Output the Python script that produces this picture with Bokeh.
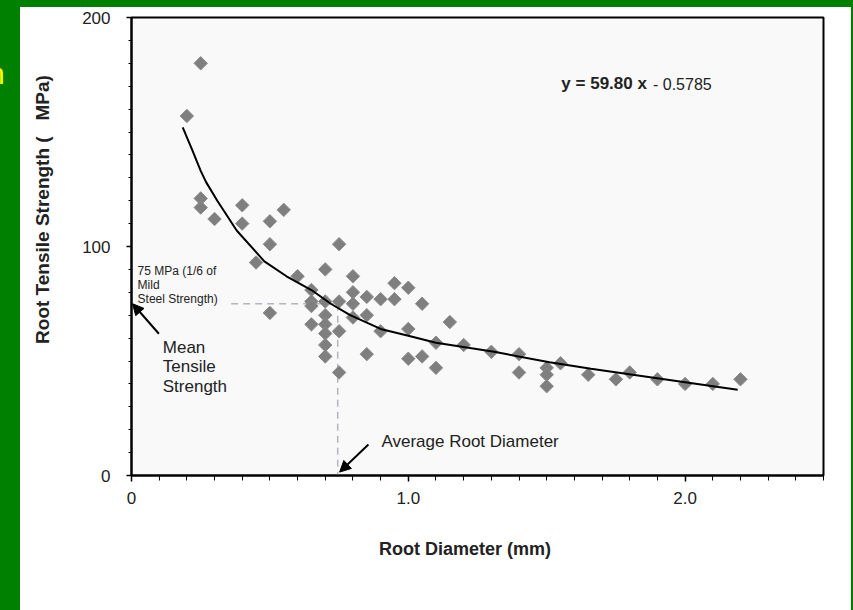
from bokeh.plotting import figure
from bokeh.models import Label, Arrow, NormalHead, FixedTicker, Div, Range1d
from bokeh.layouts import row, column
from bokeh.embed import file_html
from bokeh.resources import INLINE

# ---- data ----
root_diameter = [0.20, 0.25, 0.25, 0.25, 0.30, 0.40, 0.40, 0.45, 0.50, 0.50, 0.50, 0.55,
                 0.60, 0.65, 0.65, 0.65, 0.65, 0.70, 0.70, 0.70, 0.70, 0.70, 0.70, 0.70,
                 0.75, 0.75, 0.75, 0.75, 0.80, 0.80, 0.80, 0.80, 0.85, 0.85, 0.85, 0.90,
                 0.90, 0.95, 0.95, 1.00, 1.00, 1.00, 1.05, 1.05, 1.10, 1.10, 1.15, 1.20,
                 1.30, 1.40, 1.40, 1.50, 1.50, 1.50, 1.55, 1.65, 1.75, 1.80, 1.90, 2.00,
                 2.10, 2.20]
tensile_strength = [157, 180, 121, 117, 112, 118, 110, 93, 111, 101, 71, 116,
                    87, 81, 76, 74, 66, 90, 76, 70, 66, 62, 57, 52,
                    101, 76, 63, 45, 87, 80, 75, 69, 78, 70, 53, 77,
                    63, 84, 77, 82, 64, 51, 75, 52, 58, 47, 67, 57,
                    54, 53, 45, 47, 44, 39, 49, 44, 42, 45, 42, 40,
                    40, 42]
fit_x = [0.185, 0.22, 0.25, 0.27, 0.31, 0.38, 0.48, 0.56, 0.65, 0.72, 0.79, 0.90,
         1.00, 1.10, 1.31, 1.51, 1.66, 2.00, 2.19]
fit_y = [152, 142, 133, 128, 120, 107, 93.5, 87, 81, 75, 70, 64,
         61, 58, 54, 49.5, 46.6, 40.7, 37.4]
mean_strength = 75
average_diameter = 0.745
x_ticks = [0, 1, 2]
x_tick_labels = ["0", "1.0", "2.0"]
x_minor_ticks = [0.0, 0.1, 0.2, 0.3, 0.4, 0.5, 0.6, 0.7, 0.8, 0.9, 1.0, 1.1, 1.2,
                 1.3, 1.4, 1.5, 1.6, 1.7, 1.8, 1.9, 2.0, 2.1, 2.2, 2.3, 2.4, 2.5]
y_ticks = [0, 100, 200]
y_tick_labels = ["0", "100", "200"]
y_minor_ticks = [0, 10, 20, 30, 40, 50, 60, 70, 80, 90, 100, 110, 120, 130, 140,
                 150, 160, 170, 180, 190, 200]

FONT = "Liberation Sans"
TXT = "#222222"
GREEN = "#008000"
NB = "\u00a0"

p = figure(width=831, height=603, x_range=Range1d(0, 2.5), y_range=Range1d(0, 200),
           output_backend="svg", toolbar_location=None, title=None,
           min_border_left=111, min_border_right=28, min_border_top=10,
           min_border_bottom=135, background_fill_color="#f9f9f9",
           border_fill_color="white", outline_line_color="black",
           outline_line_width=2)
p.xgrid.visible = False
p.ygrid.visible = False

p.xaxis.ticker = FixedTicker(ticks=x_ticks, minor_ticks=x_minor_ticks)
p.yaxis.ticker = FixedTicker(ticks=y_ticks, minor_ticks=y_minor_ticks)
p.xaxis.major_label_overrides = dict(zip(x_ticks, x_tick_labels))
p.yaxis.major_label_overrides = dict(zip(y_ticks, y_tick_labels))
for ax in (p.xaxis[0], p.yaxis[0]):
    ax.axis_line_width = 2
    ax.axis_line_color = "black"
    ax.major_tick_line_color = "black"
    ax.major_tick_line_width = 1.5
    ax.minor_tick_line_color = "black"
    ax.minor_tick_line_width = 1
    ax.major_tick_in = 0
    ax.minor_tick_in = 0
    ax.major_label_text_font = FONT
    ax.major_label_text_font_size = "17px"
    ax.major_label_text_color = TXT
    ax.axis_label_text_font = FONT
    ax.axis_label_text_font_style = "bold"
    ax.axis_label_text_color = TXT
p.xaxis.major_tick_out = 6
p.xaxis.minor_tick_out = 5
p.xaxis.major_label_standoff = 10
p.yaxis.major_tick_out = 5
p.yaxis.minor_tick_out = 3
p.yaxis.major_label_standoff = 16

p.xaxis.axis_label = "Root Diameter (mm)" + NB * 5
p.xaxis.axis_label_text_font_size = "18px"
p.xaxis.axis_label_standoff = 32
p.yaxis.axis_label = NB * 14 + "Root Tensile Strength (" + NB * 3 + "MPa)"
p.yaxis.axis_label_text_font_size = "19px"
p.yaxis.axis_label_standoff = 26

# reference lines
p.line([0.36, average_diameter], [mean_strength, mean_strength], line_color="#b4b4c0",
       line_width=1.5, line_dash="7 5")
p.line([average_diameter, average_diameter], [mean_strength, 0], line_color="#b4b4c0",
       line_width=1.5, line_dash="7 5")

# data and fit
p.scatter(root_diameter, tensile_strength, marker="square", angle=0.785398, size=9.5,
          fill_color="#7f7f7f", line_color="#8c8c8c", line_width=1)
p.line(fit_x, fit_y, line_color="black", line_width=2)

def lab(x, y, text, size, bold=False, align="left"):
    p.add_layout(Label(x=x, y=y, text=text, text_font=FONT, text_font_size=size,
                       text_font_style="bold" if bold else "normal", text_color=TXT,
                       text_align=align, text_baseline="middle"))

lab(1.553, 171.0, "y = 59.80 x", "17px", bold=True)
lab(1.884, 170.6, "- 0.5785", "16px")
lab(0.022, 89.5, "75 MPa (1/6 of", "12px")
lab(0.022, 83.2, "Mild", "12px")
lab(0.022, 77.1, "Steel Strength)", "12px")
lab(0.113, 55.9, "Mean", "17px")
lab(0.113, 47.6, "Tensile", "17px")
lab(0.113, 38.9, "Strength", "17px")
lab(0.903, 14.8, "Average Root Diameter", "17px")

p.add_layout(Arrow(end=NormalHead(size=11, fill_color="black", line_color="black"),
                   x_start=0.099, y_start=61.9, x_end=0.004, y_end=75,
                   line_width=2, line_color="black"))
p.add_layout(Arrow(end=NormalHead(size=11, fill_color="black", line_color="black"),
                   x_start=0.856, y_start=13.5, x_end=0.752, y_end=1.5,
                   line_width=2, line_color="black"))

top_green = Div(width=853, height=7, margin=0, styles={"background-color": GREEN})
left_green = Div(width=20, height=603, margin=0, styles={"background-color": GREEN},
                 text='<div style="margin:46px 0 0 -12px;color:#ffff00;'
                      'font-family:Liberation Sans;font-size:30px;">n</div>')
right_green = Div(width=2, height=603, margin=0, styles={"background-color": GREEN})
layout = column(top_green, row(left_green, p, right_green, spacing=0), spacing=0)

open("out.html", "w").write(file_html(layout, INLINE))
